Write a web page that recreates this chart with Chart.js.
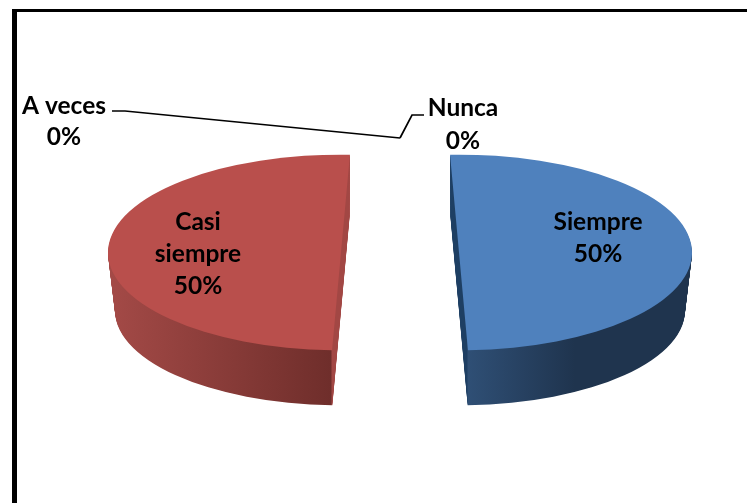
<!DOCTYPE html>
<html>
<head>
<meta charset="utf-8">
<script src="https://cdn.jsdelivr.net/npm/chart.js@4"></script>
<style>
  html, body { margin: 0; padding: 0; background: #fff; overflow: hidden; }
  #marco { position: absolute; left: 12px; top: 9px; width: 735px; height: 494px; box-sizing: border-box;
           border-left: 5px solid #000; border-top: 3px solid #000; }
  canvas { position: absolute; left: 0; top: 0; }
</style>
</head>
<body>
<div id="marco"></div>
<canvas id="pastel" width="747" height="503"></canvas>
<script>
// Datos del gráfico
const categorias = ['Siempre', 'Casi siempre', 'A veces', 'Nunca'];
const valores = [50, 50, 0, 0];
const colores = ['#4f81bd', '#b94f4c', '#8064a2', '#9bbb59'];

// Aspecto 3D del pastel
const escalaY = 0.42;
const profundidad = 58;
const estrechar = 7; // la base se ve algo más pequeña por la perspectiva
const giro = -2.2;
const separacion = 59;
const radio = 233;

// Degradado de la parte lateral, en x de pantalla
const lados = [
    [[450, '#1e3f63'], [467, '#1e3f63'], [468, '#2f4f75'], [575, '#1f344e'], [692, '#1f344e']],
    [[108, '#a44a47'], [331, '#6f2e2b'], [332, '#a24744'], [350, '#a24744']]
];

// Etiquetas: líneas de texto y su centro en pantalla
const etiquetas = [
    { i: 0, x: 598, y: 222, salto: 32, lineas: ['Siempre'] },
    { i: 1, x: 198, y: 222, salto: 32, lineas: ['Casi', 'siempre'] },
    { i: 2, x: 64, y: 106, salto: 31, lineas: ['A veces'] },
    { i: 3, x: 463, y: 108, salto: 33, lineas: ['Nunca'] }
];
const lineasGuia = [
    [[112, 111], [125, 111], [400, 138]],
    [[400, 138], [412, 115], [424, 115]]
];

const pastel3d = {
    id: 'pastel3d',
    afterDatasetsUpdate(chart) {
        const arcos = chart.getDatasetMeta(0).data;
        // porción separada a cada lado
        arcos[0].x += separacion;
        arcos[1].x -= separacion;
        // en la perspectiva los cortes no son paralelos: el rojo es el reflejo del azul
        const g = -2 * giro * Math.PI / 180;
        arcos[1].startAngle += g;
        arcos[1].endAngle += g;
    },
    beforeDatasetsDraw(chart) {
        const ctx = chart.ctx;
        const arcos = chart.getDatasetMeta(0).data;
        const cy = arcos[0].y;
        ctx.save();
        ctx.translate(0, cy);
        ctx.scale(1, escalaY);
        ctx.translate(0, -cy);
        // capas de abajo hacia arriba para hacer el lateral
        arcos.forEach((arco, i) => {
            if (!valores[i]) return;
            const stops = lados[i];
            const x0 = stops[0][0], x1 = stops[stops.length - 1][0];
            const grad = ctx.createLinearGradient(x0, 0, x1, 0);
            stops.forEach(s => grad.addColorStop((s[0] - x0) / (x1 - x0), s[1]));
            const capa = Object.create(arco);
            capa.options = Object.assign({}, arco.options, { backgroundColor: grad });
            for (let d = profundidad; d > 0; d--) {
                capa.outerRadius = arco.outerRadius - estrechar * d / profundidad;
                ctx.save();
                ctx.translate(0, d / escalaY);
                arco.draw.call(capa, ctx);
                ctx.restore();
            }
        });
    },
    afterDatasetsDraw(chart) {
        const ctx = chart.ctx;
        ctx.restore();

        ctx.strokeStyle = '#000';
        ctx.lineWidth = 1.7;
        lineasGuia.forEach(l => {
            ctx.beginPath();
            l.forEach((p, j) => j ? ctx.lineTo(p[0], p[1]) : ctx.moveTo(p[0], p[1]));
            ctx.stroke();
        });

        const total = valores.reduce((a, b) => a + b, 0);
        ctx.fillStyle = '#000';
        ctx.font = 'bold 24.5px Lato';
        ctx.textAlign = 'center';
        ctx.textBaseline = 'middle';
        etiquetas.forEach(e => {
            const pct = Math.round(valores[e.i] / total * 100) + '%';
            e.lineas.concat(pct).forEach((t, j) => ctx.fillText(t, e.x, e.y + j * e.salto));
        });
    }
};

new Chart(document.getElementById('pastel'), {
    type: 'pie',
    data: {
        labels: categorias,
        datasets: [{
            data: valores,
            backgroundColor: colores,
            borderWidth: 0,
            radius: radio,
            clip: false
        }]
    },
    options: {
        responsive: false,
        animation: false,
        rotation: giro,
        layout: { padding: { left: 53, top: 2 } },
        plugins: { legend: { display: false }, tooltip: { enabled: false } }
    },
    plugins: [pastel3d]
});
</script>
</body>
</html>
